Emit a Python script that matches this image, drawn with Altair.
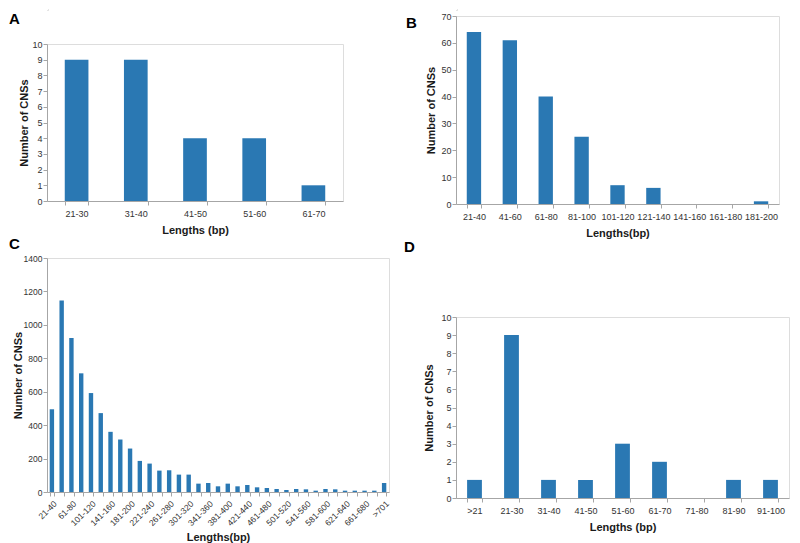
import altair as alt
import pandas as pd

# ---- data ----
a_cats = ["21-30", "31-40", "41-50", "51-60", "61-70"]
a_vals = [9, 9, 4, 4, 1]

b_cats = ["21-40", "41-60", "61-80", "81-100", "101-120", "121-140",
          "141-160", "161-180", "181-200"]
b_vals = [64, 61, 40, 25, 7, 6, 0, 0, 1]

c_cats = ["21-40", "41-60", "61-80", "81-100", "101-120", "121-140",
          "141-160", "161-180", "181-200", "201-220", "221-240", "241-260",
          "261-280", "281-300", "301-320", "321-340", "341-360", "361-380",
          "381-400", "401-420", "421-440", "441-460", "461-480", "481-500",
          "501-520", "521-540", "541-560", "561-580", "581-600", "601-620",
          "621-640", "641-660", "661-680", "681-700", ">701"]
c_vals = [495, 1145, 922, 710, 592, 472, 360, 314, 260, 186, 170, 128,
          130, 104, 104, 50, 54, 34, 50, 34, 42, 28, 24, 18,
          12, 18, 16, 8, 18, 16, 8, 8, 8, 8, 54]

d_cats = [">21", "21-30", "31-40", "41-50", "51-60", "61-70", "71-80",
          "81-90", "91-100"]
d_vals = [1, 9, 1, 1, 3, 2, 0, 1, 1]

BAR = "#2A78B3"
AXIS = "#A6A6A6"
LABEL_FONT = "Liberation Sans"
TITLE_FONT = "Liberation Sans"


def panel(cats, vals, letter, xtitle, ymax, ystep, width, height,
          letter_x, letter_y, ytitle_pad=0, pad_inner=0.6, label_angle=0,
          label_expr=None, label_size=9, xlabel_pad=4, xtitle_pad=6):
    df = pd.DataFrame({"cat": cats, "val": vals})
    xaxis_kwargs = dict(
        title=xtitle, labelAngle=label_angle, tickBand="extent",
        domainColor=AXIS, tickColor=AXIS, tickSize=4,
        labelFont=LABEL_FONT, labelFontSize=label_size, labelColor="#333333",
        labelPadding=xlabel_pad, titleFont=TITLE_FONT, titleFontSize=11,
        titleFontWeight="bold", titleColor="#1a1a1a", titlePadding=xtitle_pad,
    )
    if label_expr is not None:
        xaxis_kwargs["labelExpr"] = label_expr
    bars = alt.Chart(df).mark_bar(color=BAR).encode(
        x=alt.X("cat:N", sort=cats,
                scale=alt.Scale(paddingInner=pad_inner,
                                paddingOuter=pad_inner / 2),
                axis=alt.Axis(**xaxis_kwargs)),
        y=alt.Y("val:Q",
                scale=alt.Scale(domain=[0, ymax], nice=False),
                axis=alt.Axis(
                    title="Number of CNSs", format="d",
                    values=list(range(0, ymax + 1, ystep)),
                    grid=False, domainColor=AXIS, tickColor=AXIS, tickSize=4,
                    labelFont=LABEL_FONT, labelFontSize=label_size,
                    labelColor="#333333", labelPadding=1,
                    titleFont=TITLE_FONT, titleFontSize=11,
                    titleFontWeight="bold", titleColor="#1a1a1a",
                    titlePadding=ytitle_pad)),
    )
    lab = alt.Chart(pd.DataFrame({"t": [letter]})).mark_text(
        font="Liberation Sans", fontSize=15, fontWeight="bold",
        align="left", baseline="top", color="#000000",
    ).encode(text="t:N", x=alt.value(letter_x), y=alt.value(letter_y))
    return alt.layer(bars, lab).properties(width=width, height=height)


def spacer():
    return alt.Chart(pd.DataFrame({"t": [0]})).mark_rect(
        color="#ffffff", opacity=1, strokeWidth=0
    ).encode(
        x=alt.value(0), x2=alt.value(1), y=alt.value(0), y2=alt.value(1)
    ).properties(width=1, height=1)


c_shown = c_cats[::2]
c_expr = "indexof([" + ",".join("'" + s + "'" for s in c_shown) + \
    "], datum.value) >= 0 ? datum.label : ''"

A = panel(a_cats, a_vals, "A", "Lengths (bp)", 10, 1, 296, 157,
          -38, -32, ytitle_pad=2)
C = panel(c_cats, c_vals, "C", "Lengths(bp)", 1400, 200, 342, 234,
          -38, -21, ytitle_pad=0, pad_inner=0.55, label_angle=-45,
          label_expr=c_expr, label_size=8.5, xlabel_pad=3, xtitle_pad=4)
B = panel(b_cats, b_vals, "B", "Lengths(bp)", 70, 10, 323, 188,
          -50, 0, ytitle_pad=4)
D = panel(d_cats, d_vals, "D", "Lengths (bp)", 10, 1, 333, 181,
          -52, -77, ytitle_pad=6)

left = alt.vconcat(spacer(), A, C, spacing=0)
right = alt.vconcat(spacer(), B, D, spacing=0)

chart = alt.hconcat(left, right, spacing=12).properties(
    padding=0
).configure_view(stroke=None).configure(background="white")

chart.save("out.html", embed_options={"renderer": "svg", "actions": False})
